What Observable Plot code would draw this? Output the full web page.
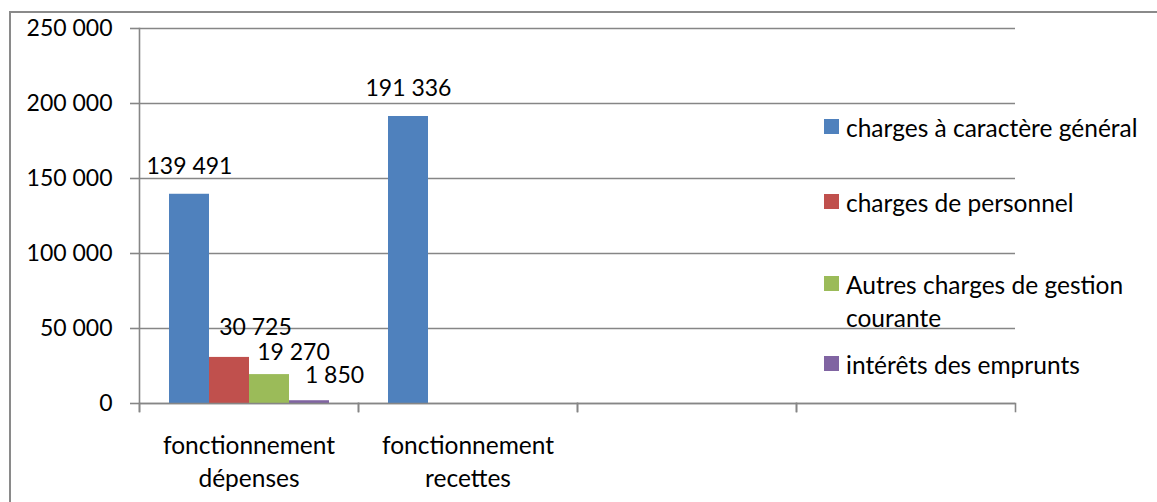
<!DOCTYPE html>
<html><head><meta charset="utf-8">
<script src="https://cdn.jsdelivr.net/npm/d3@7"></script>
<script src="https://cdn.jsdelivr.net/npm/@observablehq/plot@0.6"></script>
<style>
html,body{margin:0;padding:0;background:#fff;width:1157px;height:502px;overflow:hidden;font-family:Lato,"Open Sans",sans-serif;}
#border{position:absolute;left:9px;top:11px;width:2000px;height:2000px;border:2px solid #8a8a8a;box-sizing:border-box;}
#chart{position:absolute;left:0;top:0;}
#legend{position:absolute;left:824px;top:0;width:330px;height:400px;}
.item{position:absolute;left:0;display:flex;align-items:flex-start;font-size:24.5px;line-height:33px;color:#000;}
.sw{width:15px;height:15px;margin-top:8px;margin-right:7px;flex:none;}
.lbl{width:305px;}
</style></head><body>
<div id="border"></div>
<div id="chart"></div>
<div id="legend"></div>
<script>
// ---- data ----
const categories = ["fonctionnement dépenses", "fonctionnement recettes", "catégorie 3", "catégorie 4"];
const categoryLabels = ["fonctionnement\ndépenses", "fonctionnement\nrecettes", "", ""];
const seriesNames = ["charges à caractère général", "charges de personnel", "Autres charges de gestion courante", "intérêts des emprunts"];
const seriesColors = ["#4F81BD", "#C0504D", "#9BBB59", "#8064A2"];
const depenses = [139491, 30725, 19270, 1850];
const recettes = [191336, null, null, null];
const categorie3 = [null, null, null, null];
const categorie4 = [null, null, null, null];
const yTicks = [0, 50000, 100000, 150000, 200000, 250000];

const valuesByCategory = [depenses, recettes, categorie3, categorie4];
const rows = [];
categories.forEach((c, ci) => seriesNames.forEach((s, si) => rows.push({category: c, series: s, value: valuesByCategory[ci][si]})));

const fmt = d => d3.format(",")(d).replace(/,/g, " ");
const gray = "#868686";
// label placement offsets (as in the original chart, where small labels were nudged right)
const labelDx = [0, 26, 24, 25];
const labelDy = [-28, -30, -22, -25];

const plot = Plot.plot({
  width: 1157, height: 502,
  marginLeft: 139, marginRight: 142, marginTop: 28, marginBottom: 99,
  style: {fontFamily: "Lato, 'Open Sans', sans-serif", fontSize: "23px", color: "#000", background: "transparent"},
  fx: {domain: categories, padding: 0, label: null},
  x: {domain: seriesNames, paddingInner: 0, paddingOuter: 0.7375, axis: null},
  y: {domain: [0, 250000], label: null},
  color: {domain: seriesNames, range: seriesColors},
  marks: [
    Plot.gridY(yTicks, {stroke: gray, strokeOpacity: 1, strokeWidth: 1.6}),
    Plot.axisY(yTicks, {tickSize: 9, tickPadding: 18, tickFormat: fmt, stroke: gray, strokeWidth: 1.6, label: null, fontSize: 23, fill: "#000"}),
    Plot.frame({anchor: "left", facetAnchor: "left", insetBottom: -8, stroke: gray, strokeWidth: 1.6}),
    Plot.frame({anchor: "left", insetTop: 375, insetBottom: -8, stroke: gray, strokeWidth: 1.6}),
    Plot.frame({anchor: "right", insetTop: 375, insetBottom: -8, stroke: gray, strokeWidth: 1.6}),
    Plot.barY(rows, {fx: "category", x: "series", y: "value", fill: "series"}),
    Plot.ruleY([0], {stroke: gray, strokeWidth: 1.6}),
    ...seriesNames.map((s, i) => Plot.text(rows, {
      filter: d => d.value != null && d.series === s,
      fx: "category", x: "series", y: "value", text: d => fmt(d.value),
      dx: labelDx[i], dy: labelDy[i], fontSize: 23, fill: "#000"
    })),
    Plot.axisFx({anchor: "bottom", tickSize: 0, tickPadding: 27, tickFormat: d => categoryLabels[categories.indexOf(d)], lineHeight: 1.35, label: null, fontSize: 24.5, fill: "#000"})
  ]
});
document.getElementById("chart").appendChild(plot);

// ---- legend ----
const legendTops = [111, 186, 268, 348];
const legend = document.getElementById("legend");
seriesNames.forEach((s, i) => {
  const item = document.createElement("div");
  item.className = "item";
  item.style.top = legendTops[i] + "px";
  const sw = document.createElement("div");
  sw.className = "sw";
  sw.style.background = seriesColors[i];
  const lbl = document.createElement("div");
  lbl.className = "lbl";
  lbl.textContent = s;
  item.appendChild(sw); item.appendChild(lbl);
  legend.appendChild(item);
});
</script>
</body></html>
